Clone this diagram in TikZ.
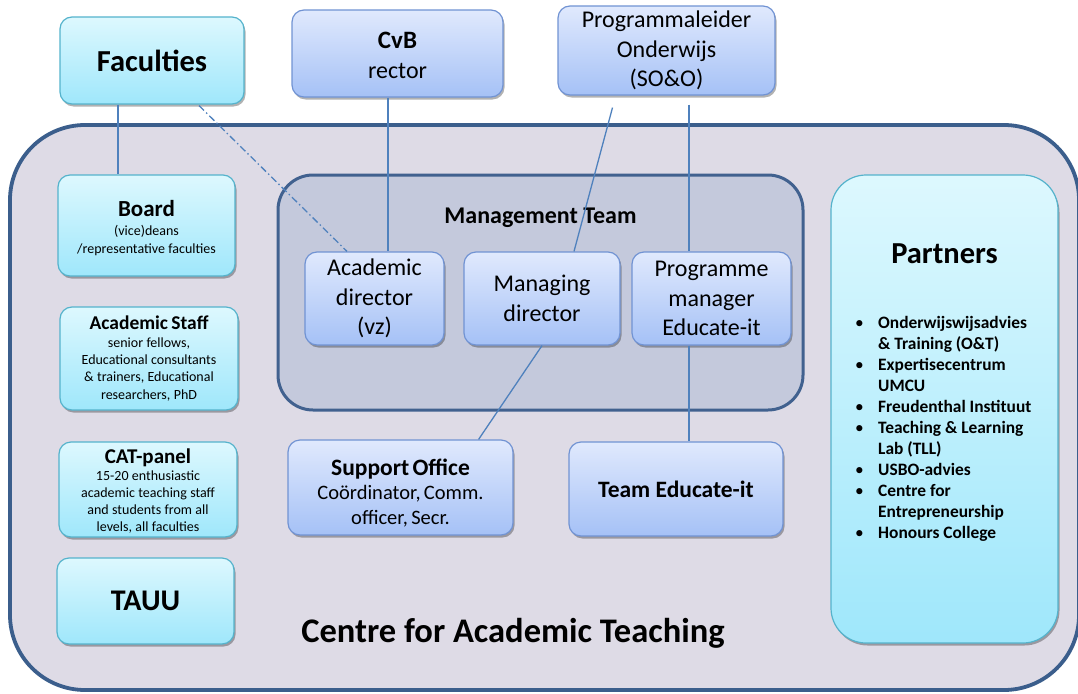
\documentclass[tikz,border=0pt]{standalone}
\usepackage{fontspec}
\setmainfont{Carlito}
\usetikzlibrary{shadows}
\definecolor{cyanT}{HTML}{DDF8FE}
\definecolor{cyanL}{HTML}{9FE7FB}
\definecolor{cyanB}{HTML}{55B3CC}
\definecolor{blueT}{HTML}{E0E9FD}
\definecolor{blueL}{HTML}{A5C1F6}
\definecolor{blueB}{HTML}{7193D3}
\definecolor{contF}{HTML}{DEDBE6}
\definecolor{contB}{HTML}{3B5E8C}
\definecolor{mtF}{HTML}{C4C9DC}
\definecolor{mtB}{HTML}{41618F}
\definecolor{lineC}{HTML}{4F81BD}
\tikzset{
  box/.style={rounded corners=12pt, draw, line width=1.2pt,
    drop shadow={shadow xshift=1.5pt, shadow yshift=-2.5pt, opacity=0.3, fill=black},
    align=center, inner sep=0pt},
  cbox/.style={box, draw=cyanB, top color=cyanT, bottom color=cyanL},
  bbox/.style={box, draw=blueB, top color=blueT, bottom color=blueL},
  conn/.style={draw=lineC, line width=1.3pt},
  dconn/.style={conn, dash pattern=on 7pt off 3pt on 1.5pt off 3pt},
  big/.style={font=\fontsize{24}{29.5}\selectfont},
}
\newcommand{\hd}[2]{{\fontsize{#1}{#1}\selectfont\bfseries #2\par}}
\newcommand{\sm}[3]{{\fontsize{#1}{#2}\selectfont #3\par}}
\begin{document}
\begin{tikzpicture}[x=1pt,y=-1pt]
\useasboundingbox (0,0) rectangle (1078,693);
% containers
\node[draw=contB, line width=3.8pt, fill=contF, rounded corners=75pt,
  minimum width=1069pt, minimum height=565pt, inner sep=0pt] (centre) at (544.5,407.5) {};
\node[font=\fontsize{34.5}{40}\selectfont\bfseries] (centretitle) at (513,633) {Centre for Academic Teaching};
\node[draw=mtB, line width=3pt, fill=mtF, rounded corners=35pt,
  minimum width=525pt, minimum height=235pt, inner sep=0pt] (mt) at (540.5,292.5) {};
\node[font=\fontsize{24}{29}\selectfont\bfseries] (mttitle) at (540.5,218) {Management Team};
% top row
\node[cbox, minimum width=184pt, minimum height=87pt, font=\fontsize{30.5}{36}\selectfont\bfseries] (fac) at (152,60.5) {Faculties};
\node[bbox, minimum width=211pt, minimum height=87pt, text width=200pt] (cvb) at (397.5,53.5)
  {\hd{25}{\rule{0pt}{21pt}CvB}\sm{24}{30}{rector}};
\node[bbox, minimum width=217pt, minimum height=89pt, big] (prog) at (666.5,50.5)
  {Programmaleider\\Onderwijs\\(SO\&O)};
% left column
\node[cbox, minimum width=177pt, minimum height=101pt, text width=170pt] (board) at (146.5,225.5)
  {\hd{23}{\rule{0pt}{22pt}Board}\vspace{1pt}\sm{14}{18}{(vice)deans\\/representative faculties}};
\node[cbox, minimum width=178pt, minimum height=103pt, text width=170pt] (staff) at (149,358.5)
  {\hd{19.5}{Academic Staff}\sm{14}{17.3}{senior fellows,\\Educational consultants\\\& trainers, Educational\\researchers, PhD}};
\node[cbox, minimum width=178pt, minimum height=95pt, text width=170pt] (panel) at (148,489.5)
  {\hd{21}{\rule{0pt}{18pt}CAT-panel}\sm{14}{17}{15-20 enthusiastic\\academic teaching staff\\and students from all\\levels, all faculties}};
\node[cbox, minimum width=177pt, minimum height=86pt, font=\fontsize{30}{36}\selectfont\bfseries] (tauu) at (145.5,601) {TAUU};
% management team
\node[bbox, minimum width=139pt, minimum height=93pt, big] (ad) at (374.5,298.5) {Academic\\director\\(vz)};
\node[bbox, minimum width=156pt, minimum height=93pt, big] (md) at (542,298.5) {Managing\\director};
\node[bbox, minimum width=159pt, minimum height=93pt, big] (pm) at (711.5,298.5) {Programme\\manager\\Educate-it};
% lower row
\node[bbox, minimum width=225pt, minimum height=95pt, text width=215pt] (so) at (400.5,487.5)
  {\hd{23.5}{\rule{0pt}{27pt}Support Office}\sm{20.5}{24.5}{Coördinator, Comm.\\officer, Secr.}};
\node[bbox, minimum width=214pt, minimum height=94pt, font=\fontsize{23.5}{28}\selectfont\bfseries] (te) at (676,489) {Team Educate-it};
% partners
\node[cbox, rounded corners=35pt, minimum width=227pt, minimum height=468pt] (partners) at (944.5,409) {};
\node[font=\fontsize{30.5}{36}\selectfont\bfseries] (ptitle) at (944.5,254) {Partners};
\node[anchor=base west, inner sep=0pt, font=\fontsize{17.4}{21}\selectfont\bfseries, align=left] (plist) at (855,328)
  {\begin{tabular}[t]{@{}p{23pt}@{}l@{}}
  {\mdseries\textbullet} & Onderwijswijsadvies\\
   & \& Training (O\&T)\\
  {\mdseries\textbullet} & Expertisecentrum\\
   & UMCU\\
  {\mdseries\textbullet} & Freudenthal Instituut\\
  {\mdseries\textbullet} & Teaching \& Learning\\
   & Lab (TLL)\\
  {\mdseries\textbullet} & USBO-advies\\
  {\mdseries\textbullet} & Centre for\\
   & Entrepreneurship\\
  {\mdseries\textbullet} & Honours College
  \end{tabular}};
% connectors
\draw[conn] ([xshift=-34pt]fac.south) -- ([xshift=-28.5pt]board.north);
\draw[dconn] ([xshift=47pt,yshift=-1pt]fac.south) -- ([xshift=-27.5pt]ad.north);
\draw[conn] ([xshift=-9.5pt]cvb.south) -- ([xshift=13.5pt]ad.north);
\draw[conn] ([xshift=-54pt,yshift=-12pt]prog.south) -- ([xshift=32pt]md.north);
\draw[conn] ([xshift=22.5pt,yshift=-9pt]prog.south) -- ([xshift=-22.5pt]pm.north);
\draw[conn] (md.south) -- ([xshift=-35pt]so.north east);
\draw[conn] ([xshift=-22.5pt]pm.south) -- ([xshift=13pt]te.north);
\end{tikzpicture}
\end{document}
